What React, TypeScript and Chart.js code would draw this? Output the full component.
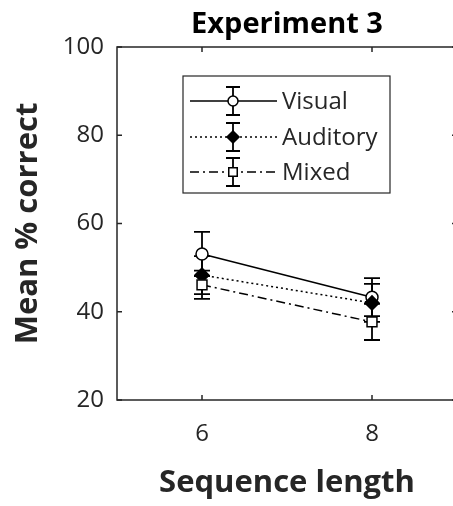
import React, { useEffect, useRef } from "react";
import { Chart, registerables } from "chart.js";

Chart.register(...registerables);

const xValues = [6, 8];
const xTicks = [6, 8];
const yTicks = [20, 40, 60, 80, 100];
const seriesNames = ["Visual", "Auditory", "Mixed"];
const visualMean = [53.1, 43.3];
const visualErr = [5.0, 4.3];
const auditoryMean = [48.3, 42.0];
const auditoryErr = [4.3, 4.3];
const mixedMean = [46.1, 37.7];
const mixedErr = [3.2, 4.1];
const titleText = "Experiment 3";
const xLabel = "Sequence length";
const yLabel = "Mean % correct";

const FONT = "'Open Sans', 'DejaVu Sans', sans-serif";
const AX = "#262626";

const styles = [
  { dash: [] as number[], pointStyle: "circle", fill: "#ffffff", radius: 6 },
  { dash: [2, 3], pointStyle: "rectRot", fill: "#000000", radius: 7 },
  { dash: [9, 4, 2, 4], pointStyle: "rect", fill: "#ffffff", radius: 7 },
];

const means = [visualMean, auditoryMean, mixedMean];
const errs = [visualErr, auditoryErr, mixedErr];

function drawMarker(ctx: CanvasRenderingContext2D, style: string, x: number, y: number, r: number, fill: string) {
  ctx.save();
  ctx.beginPath();
  if (style === "circle") {
    ctx.arc(x, y, r, 0, Math.PI * 2);
  } else if (style === "rectRot") {
    ctx.moveTo(x, y - r);
    ctx.lineTo(x + r, y);
    ctx.lineTo(x, y + r);
    ctx.lineTo(x - r, y);
    ctx.closePath();
  } else {
    const s = Math.SQRT1_2 * r;
    ctx.rect(x - s, y - s, 2 * s, 2 * s);
  }
  ctx.fillStyle = fill;
  ctx.fill();
  ctx.lineWidth = 1.5;
  ctx.strokeStyle = "#000";
  ctx.setLineDash([]);
  ctx.stroke();
  ctx.restore();
}

const decorPlugin = {
  id: "decor",
  beforeDatasetsDraw(chart: any) {
    const ctx = chart.ctx as CanvasRenderingContext2D;
    const xs = chart.scales.x;
    const ys = chart.scales.y;
    ctx.save();
    ctx.strokeStyle = "#000";
    ctx.lineWidth = 1.8;
    ctx.setLineDash([]);
    const cap = 8;
    means.forEach((m, si) => {
      m.forEach((v, i) => {
        const px = xs.getPixelForValue(xValues[i]);
        const top = ys.getPixelForValue(v + errs[si][i]);
        const bot = ys.getPixelForValue(v - errs[si][i]);
        ctx.beginPath();
        ctx.moveTo(px, top);
        ctx.lineTo(px, bot);
        ctx.moveTo(px - cap, top);
        ctx.lineTo(px + cap, top);
        ctx.moveTo(px - cap, bot);
        ctx.lineTo(px + cap, bot);
        ctx.stroke();
      });
    });
    ctx.restore();
  },
  afterDraw(chart: any) {
    const ctx = chart.ctx as CanvasRenderingContext2D;
    const a = chart.chartArea;
    const xs = chart.scales.x;
    const ys = chart.scales.y;
    ctx.save();
    // frame
    ctx.strokeStyle = AX;
    ctx.lineWidth = 1.5;
    ctx.setLineDash([]);
    ctx.strokeRect(a.left, a.top, a.right - a.left, a.bottom - a.top);
    const tl = 5;
    ctx.beginPath();
    xTicks.forEach((t) => {
      const px = xs.getPixelForValue(t);
      ctx.moveTo(px, a.bottom);
      ctx.lineTo(px, a.bottom - tl);
      ctx.moveTo(px, a.top);
      ctx.lineTo(px, a.top + tl);
    });
    yTicks.forEach((t) => {
      const py = ys.getPixelForValue(t);
      ctx.moveTo(a.left, py);
      ctx.lineTo(a.left + tl, py);
      ctx.moveTo(a.right, py);
      ctx.lineTo(a.right - tl, py);
    });
    ctx.stroke();

    const cx = (a.left + a.right) / 2;
    // title
    ctx.fillStyle = "#000";
    ctx.font = `bold 29px ${FONT}`;
    ctx.textAlign = "center";
    ctx.textBaseline = "alphabetic";
    ctx.fillText(titleText, cx, 33);

    // axis labels
    ctx.fillStyle = AX;
    ctx.font = `bold 31px ${FONT}`;
    ctx.fillText(xLabel, cx, 492);
    ctx.save();
    ctx.translate(37, (a.top + a.bottom) / 2);
    ctx.rotate(-Math.PI / 2);
    ctx.fillText(yLabel, 0, 0);
    ctx.restore();

    // legend
    const lx = 183, ly = 76, lw = 207, lh = 117;
    ctx.fillStyle = "#fff";
    ctx.fillRect(lx, ly, lw, lh);
    ctx.strokeStyle = AX;
    ctx.lineWidth = 1.2;
    ctx.strokeRect(lx, ly, lw, lh);
    const rows = [101, 137, 172];
    seriesNames.forEach((name, i) => {
      const y = rows[i];
      const st = styles[i];
      ctx.strokeStyle = "#000";
      ctx.lineWidth = 1.5;
      ctx.setLineDash(st.dash);
      ctx.beginPath();
      ctx.moveTo(190, y);
      ctx.lineTo(277, y);
      ctx.stroke();
      ctx.setLineDash([]);
      ctx.lineWidth = 1.8;
      ctx.beginPath();
      ctx.moveTo(233, y - 14);
      ctx.lineTo(233, y + 14);
      ctx.moveTo(226, y - 14);
      ctx.lineTo(240, y - 14);
      ctx.moveTo(226, y + 14);
      ctx.lineTo(240, y + 14);
      ctx.stroke();
      drawMarker(ctx, st.pointStyle, 233, y, i === 2 ? 6 : st.radius - 1, st.fill);
      ctx.fillStyle = AX;
      ctx.font = `24px ${FONT}`;
      ctx.textAlign = "left";
      ctx.textBaseline = "middle";
      ctx.fillText(name, 282, y + 1);
    });
    ctx.restore();
  },
};

if (typeof document !== "undefined") {
  document.body.style.margin = "0";
}

export default function App() {
  const ref = useRef<HTMLCanvasElement>(null);
  useEffect(() => {
    document.body.style.margin = "0";
    if (!ref.current) return;
    const datasets = seriesNames.map((name, si) => ({
      label: name,
      data: xValues.map((x, i) => ({ x, y: means[si][i] })),
      borderColor: "#000",
      borderWidth: 1.5,
      borderDash: styles[si].dash,
      pointStyle: styles[si].pointStyle as any,
      pointRadius: styles[si].radius,
      pointBackgroundColor: styles[si].fill,
      pointBorderColor: "#000",
      pointBorderWidth: 1.5,
      fill: false,
      tension: 0,
    }));
    const chart = new Chart(ref.current, {
      type: "line",
      data: { datasets: datasets.slice().reverse() },
      options: {
        animation: false,
        responsive: false,
        maintainAspectRatio: false,
        layout: { autoPadding: false, padding: { top: 47, right: 13, left: 0, bottom: 0 } },
        plugins: { legend: { display: false }, tooltip: { enabled: false }, title: { display: false } },
        scales: {
          x: {
            type: "linear",
            min: 5,
            max: 9,
            afterBuildTicks: (s: any) => {
              s.ticks = xTicks.map((v) => ({ value: v }));
            },
            afterFit: (s: any) => {
              s.height = 106;
              s.paddingLeft = 0;
              s.paddingRight = 0;
            },
            grid: { display: false, drawTicks: false },
            border: { display: false },
            ticks: { color: AX, font: { family: FONT, size: 24 }, padding: 20 },
          },
          y: {
            type: "linear",
            min: 20,
            max: 100,
            afterBuildTicks: (s: any) => {
              s.ticks = yTicks.map((v) => ({ value: v }));
            },
            afterFit: (s: any) => {
              s.width = 117;
              s.paddingTop = 0;
              s.paddingBottom = 0;
            },
            grid: { display: false, drawTicks: false },
            border: { display: false },
            ticks: { color: AX, font: { family: FONT, size: 24 }, padding: 13 },
          },
        },
      },
      plugins: [decorPlugin],
    });
    return () => chart.destroy();
  }, []);
  return (
    <div style={{ width: 453, height: 506, overflow: "hidden", position: "relative", background: "#fff" }}>
      <canvas ref={ref} width={470} height={506} style={{ display: "block", width: 470, height: 506 }} />
    </div>
  );
}
